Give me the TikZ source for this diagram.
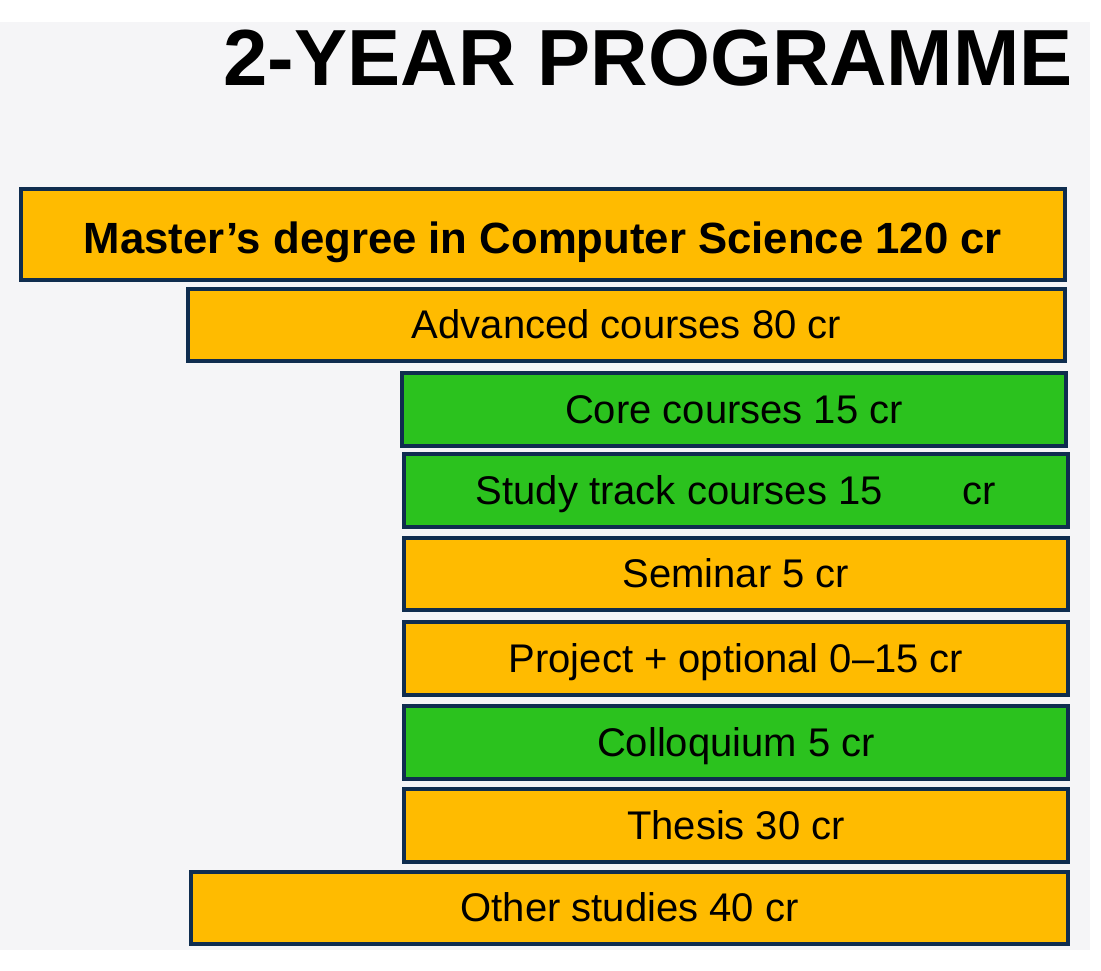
\documentclass[tikz,border=0pt]{standalone}
\usepackage{fontspec}
\setmainfont{Liberation Sans}
\definecolor{boxorange}{HTML}{FFBB00}
\definecolor{boxgreen}{HTML}{2BC21E}
\definecolor{boxline}{HTML}{0F2D4F}
\definecolor{bgpanel}{HTML}{F5F5F7}
\tikzset{
  bar/.style={draw=boxline, line width=3.5pt, inner sep=0pt, font=\fontsize{40}{48}\selectfont, text=black, text height=27pt, text depth=0pt},
  orangebar/.style={bar, fill=boxorange},
  greenbar/.style={bar, fill=boxgreen},
}
\begin{document}
\begin{tikzpicture}[x=1pt,y=-1pt]
\useasboundingbox (0,0) rectangle (1101,971);
\fill[white] (0,0) rectangle (1101,971);
\fill[bgpanel] (0,22) rectangle (1090,950);
\node[anchor=base east, font=\fontsize{79.6}{90}\selectfont\bfseries, inner sep=0pt] (title) at (1073,86) {2-YEAR PROGRAMME};
\node[orangebar, minimum width=1044pt, minimum height=91pt, font=\fontsize{43.7}{50}\selectfont\bfseries, text height=37pt] (master) at (543,234.5) {Master’s degree in Computer Science 120 cr};
\node[orangebar, minimum width=877pt, minimum height=72pt] (adv) at (626.5,325) {Advanced courses 80 cr};
\node[greenbar, minimum width=664pt, minimum height=73pt] (core) at (734,409.5) {Core courses 15 cr};
\node[greenbar, minimum width=664pt, minimum height=73pt] (track) at (736,490.5) {Study track courses 15\hspace{80pt}cr};
\node[orangebar, minimum width=664pt, minimum height=72pt] (sem) at (736,574) {Seminar 5 cr};
\node[orangebar, minimum width=664pt, minimum height=73pt] (proj) at (736,658.5) {Project + optional 0–15 cr};
\node[greenbar, minimum width=664pt, minimum height=73pt] (coll) at (736,742.5) {Colloquium 5 cr};
\node[orangebar, minimum width=664pt, minimum height=73pt] (thesis) at (736,825.5) {Thesis 30 cr};
\node[orangebar, minimum width=877pt, minimum height=72pt] (other) at (629.5,908) {Other studies 40 cr};
\end{tikzpicture}
\end{document}
